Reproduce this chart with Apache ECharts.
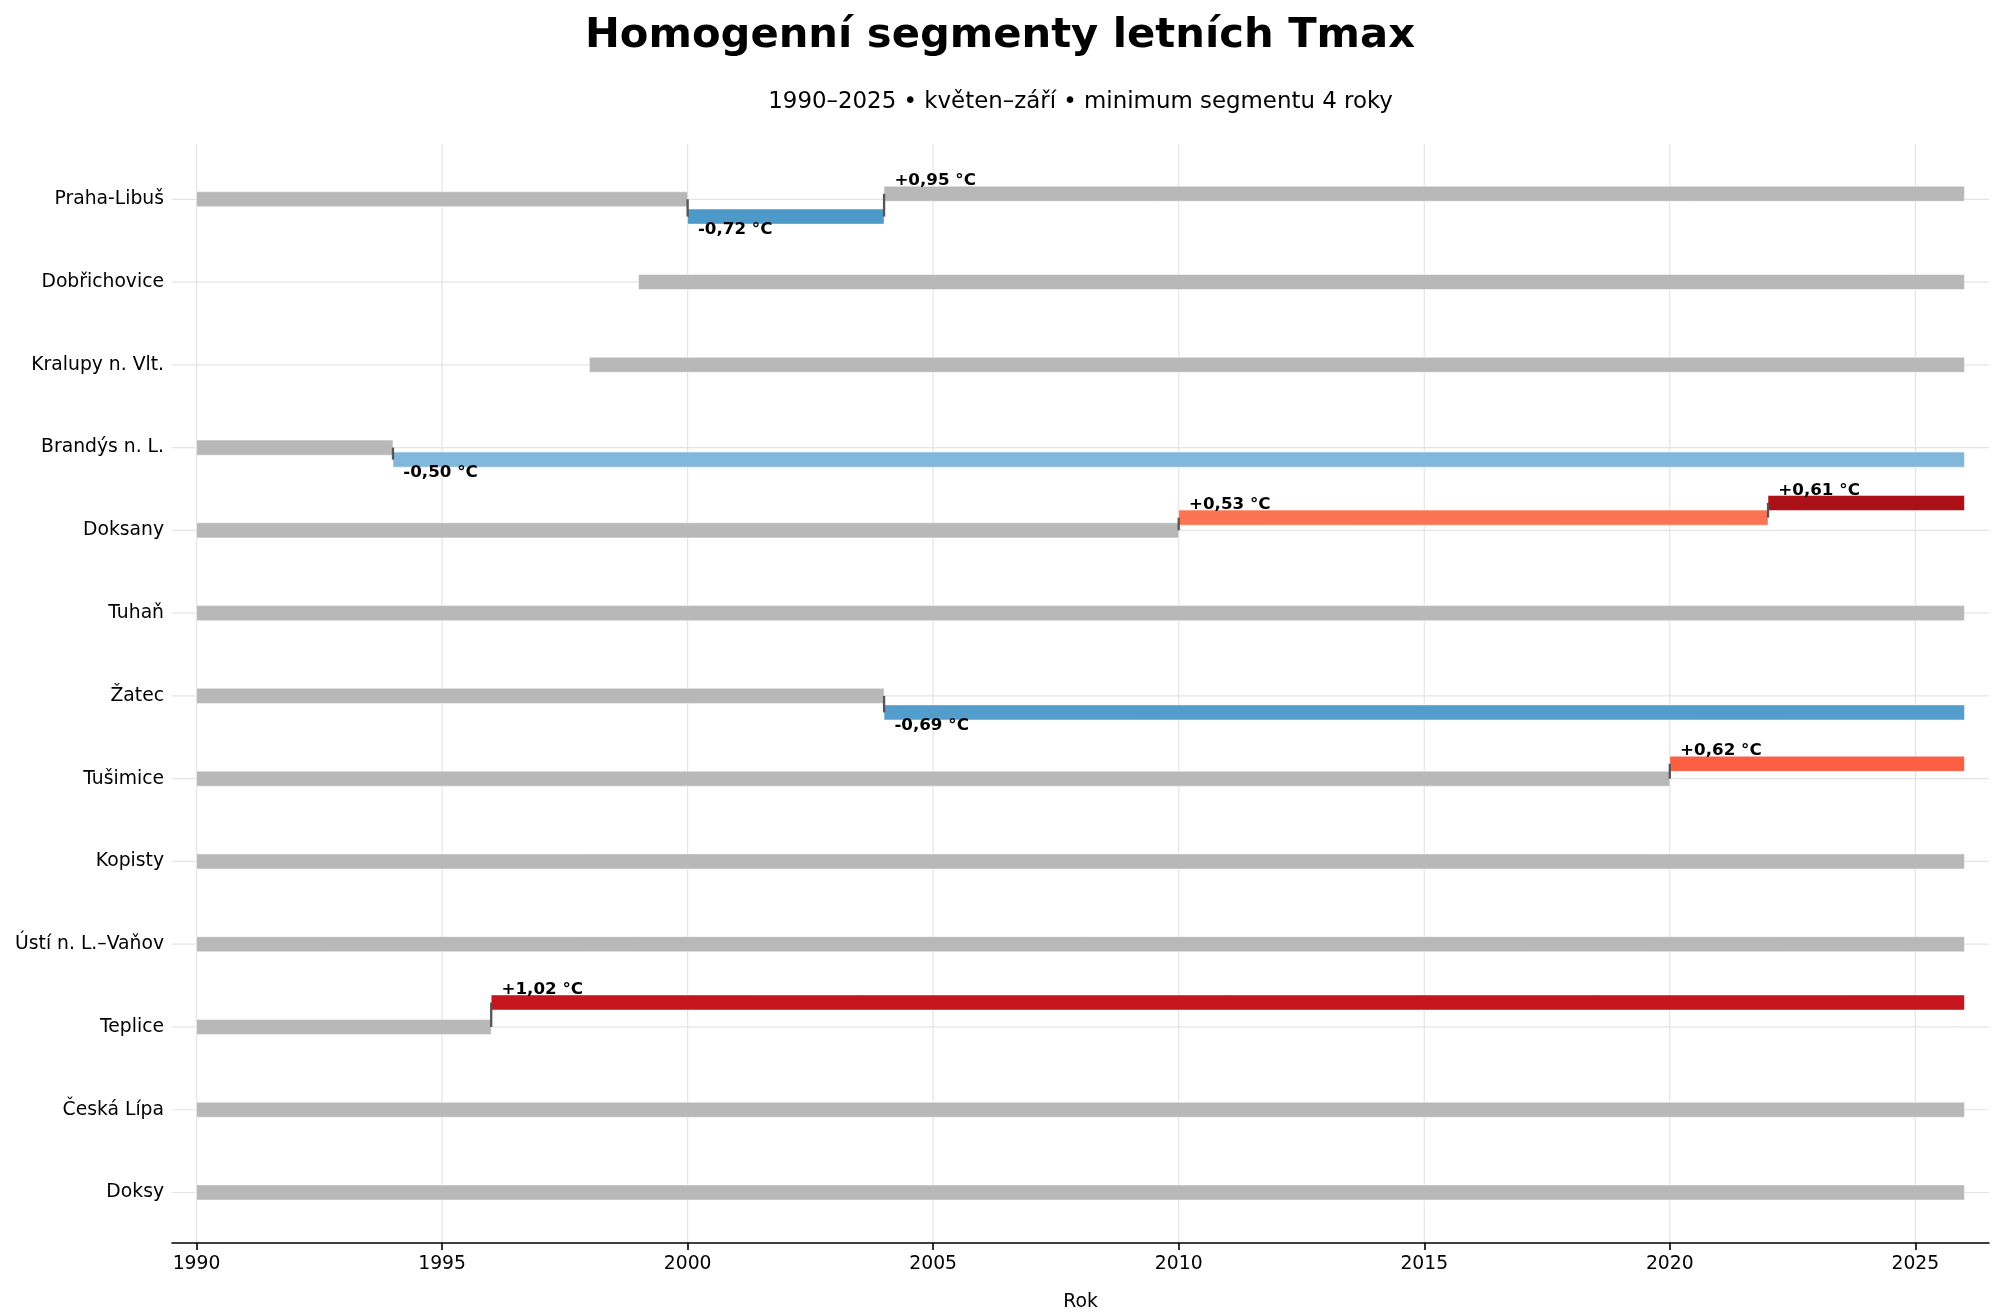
<!DOCTYPE html>
<html>
<head>
<meta charset="utf-8">
<script src="https://cdn.jsdelivr.net/npm/echarts@6/dist/echarts.min.js"></script>
<style>
html, body { margin: 0; padding: 0; background: #fff; }
#main { width: 2000px; height: 1315px; }
</style>
</head>
<body>
<div id="main"></div>
<script>
// stanice (shora dolu)
var stations = ['Praha-Libuš', 'Dobřichovice', 'Kralupy n. Vlt.', 'Brandýs n. L.', 'Doksany', 'Tuhaň',
    'Žatec', 'Tušimice', 'Kopisty', 'Ústí n. L.–Vaňov', 'Teplice', 'Česká Lípa', 'Doksy'];
var yearTicks = [1990, 1995, 2000, 2005, 2010, 2015, 2020, 2025];

// segmenty: stanice, zacatek, konec, skok oproti predchozimu segmentu (°C)
var segRow   = [0, 0, 0, 1, 2, 3, 3, 4, 4, 4, 5, 6, 6, 7, 7, 8, 9, 10, 10, 11, 12];
var segStart = [1990, 2000, 2004, 1999, 1998, 1990, 1994, 1990, 2010, 2022, 1990, 1990, 2004, 1990, 2020, 1990, 1990, 1990, 1996, 1990, 1990];
var segEnd   = [2000, 2004, 2026, 2026, 2026, 1994, 2026, 2010, 2022, 2026, 2026, 2004, 2026, 2020, 2026, 2026, 2026, 1996, 2026, 2026, 2026];
var segShift = [0, -0.72, 0.95, 0, 0, 0, -0.50, 0, 0.53, 0.61, 0, 0, -0.69, 0, 0.62, 0, 0, 0, 1.02, 0, 0];

var X_MIN = 1989.5, X_MAX = 2026.5;
var Y_MIN = -0.668, Y_MAX = 12.61;
var LEVEL_SCALE = 0.29;   // posun radku na 1 °C
var BAR_H = 0.182;
var FONT = 'DejaVu Sans';

// kumulativni uroven segmentu
var segLevel = [];
for (var i = 0; i < segRow.length; i++) {
    if (i > 0 && segRow[i] === segRow[i - 1]) {
        segLevel.push(segLevel[i - 1] + segShift[i]);
    } else {
        segLevel.push(segShift[i]);
    }
}

// barvy podle urovne
var NEG_STOPS = [[0.3, '#c6dbef'], [0.5, '#80b7da'], [0.7, '#509cca'], [1.0, '#2171b5']];
var POS_STOPS = [[0.3, '#fcbba1'], [0.53, '#fc7353'], [0.62, '#fa5f43'], [1.02, '#c4161c'], [1.14, '#aa1016'], [1.5, '#67000d']];

function hexToRgb(h) {
    return [parseInt(h.slice(1, 3), 16), parseInt(h.slice(3, 5), 16), parseInt(h.slice(5, 7), 16)];
}
function levelColor(level) {
    var a = Math.abs(level);
    if (a < 0.3) return '#b8b8b8';
    var stops = level < 0 ? NEG_STOPS : POS_STOPS;
    if (a >= stops[stops.length - 1][0]) return stops[stops.length - 1][1];
    for (var k = 0; k < stops.length - 1; k++) {
        if (a >= stops[k][0] && a <= stops[k + 1][0]) {
            var t = (a - stops[k][0]) / (stops[k + 1][0] - stops[k][0]);
            var c0 = hexToRgb(stops[k][1]), c1 = hexToRgb(stops[k + 1][1]);
            return 'rgb(' + [0, 1, 2].map(function (j) { return Math.round(c0[j] + (c1[j] - c0[j]) * t); }).join(',') + ')';
        }
    }
    return '#b8b8b8';
}

var segData = segRow.map(function (r, i) {
    return [segStart[i], segEnd[i], r, segLevel[i], segShift[i]];
});

function renderSegment(params, api) {
    var x0 = api.value(0), x1 = api.value(1), row = api.value(2), level = api.value(3), shift = api.value(4);
    var yc = row - level * LEVEL_SCALE;
    var p0 = api.coord([x0, yc]);
    var p1 = api.coord([x1, yc]);
    var h = Math.abs(api.size([0, BAR_H])[1]);
    var children = [{
        type: 'rect',
        shape: { x: p0[0], y: p0[1] - h / 2, width: p1[0] - p0[0], height: h },
        style: { fill: levelColor(level), stroke: 'rgba(255,255,255,0.6)', lineWidth: 0.8 }
    }];
    if (shift !== 0) {
        var pPrev = api.coord([x0, row - (level - shift) * LEVEL_SCALE]);
        children.push({
            type: 'line', z2: 5,
            shape: { x1: p0[0], y1: pPrev[1], x2: p0[0], y2: p0[1] },
            style: { stroke: '#555555', lineWidth: 2.3 }
        });
        var lp = api.coord([x0 + 0.21, yc]);
        var txt = (shift > 0 ? '+' : '-') + Math.abs(shift).toFixed(2).replace('.', ',') + ' °C';
        children.push({
            type: 'text', z2: 10,
            x: lp[0],
            y: shift > 0 ? p0[1] - h / 2 + 3.3 : p0[1] + h / 2 - 2.5,
            style: {
                text: txt, fill: '#000', fontSize: 16.7, fontWeight: 'bold', fontFamily: FONT,
                align: 'left', verticalAlign: shift > 0 ? 'bottom' : 'top'
            }
        });
    }
    return { type: 'group', children: children };
}

var gridStyle = { stroke: '#e4e4e4', lineWidth: 1.2 };

var myChart = echarts.init(document.getElementById('main'));

myChart.setOption({
    backgroundColor: '#fff',
    animation: false,
    textStyle: { fontFamily: FONT },
    title: [{
        text: 'Homogenní segmenty letních Tmax',
        left: 'center', top: 15, padding: 0,
        textStyle: { fontSize: 41.7, fontWeight: 'bold', color: '#000', fontFamily: FONT }
    }, {
        text: '1990–2025 • květen–září • minimum segmentu 4 roky',
        left: 1080.6, textAlign: 'center', top: 91, padding: 0,
        textStyle: { fontSize: 22.9, fontWeight: 'normal', color: '#000', fontFamily: FONT }
    }],
    grid: { left: 172, right: 11, top: 144, bottom: 72, containLabel: false, outerBoundsMode: 'none' },
    xAxis: {
        type: 'value', min: X_MIN, max: X_MAX,
        name: 'Rok', nameLocation: 'middle', nameGap: 50,
        nameTextStyle: { fontSize: 18.75, color: '#000', fontFamily: FONT },
        axisLine: { show: true, onZero: false, lineStyle: { color: '#000', width: 1.6 } },
        axisTick: { show: true, customValues: yearTicks, length: 7, lineStyle: { color: '#000', width: 1.6 } },
        axisLabel: {
            customValues: yearTicks, fontSize: 18.75, color: '#000', margin: 12, fontFamily: FONT,
            formatter: function (v) { return String(v); }
        },
        splitLine: { show: false }
    },
    yAxis: {
        type: 'value', inverse: true, min: Y_MIN, max: Y_MAX,
        axisLine: { show: false },
        axisTick: { show: false, customValues: stations.map(function (s, i) { return i; }) },
        axisLabel: {
            customValues: stations.map(function (s, i) { return i; }),
            formatter: function (v) { return stations[Math.round(v)] || ''; },
            fontSize: 18.75, color: '#000', margin: 8, fontFamily: FONT
        },
        splitLine: { show: false }
    },
    series: [{
        name: 'mrizka-x',
        type: 'custom', silent: true, z: 0, clip: false,
        encode: { x: 0, y: 1 },
        data: yearTicks.map(function (v) { return [v, 0]; }),
        renderItem: function (params, api) {
            var a = api.coord([api.value(0), Y_MIN]), b = api.coord([api.value(0), Y_MAX]);
            return { type: 'line', shape: { x1: a[0], y1: a[1], x2: b[0], y2: b[1] }, style: gridStyle };
        }
    }, {
        name: 'mrizka-y',
        type: 'custom', silent: true, z: 0, clip: false,
        encode: { x: 0, y: 1 },
        data: stations.map(function (s, i) { return [X_MIN, i]; }),
        renderItem: function (params, api) {
            var a = api.coord([X_MIN, api.value(1)]), b = api.coord([X_MAX, api.value(1)]);
            return { type: 'line', shape: { x1: a[0], y1: a[1], x2: b[0], y2: b[1] }, style: gridStyle };
        }
    }, {
        name: 'segmenty',
        type: 'custom', z: 2, clip: false,
        encode: { x: [0, 1], y: 2 },
        data: segData,
        renderItem: renderSegment
    }]
});
</script>
</body>
</html>
